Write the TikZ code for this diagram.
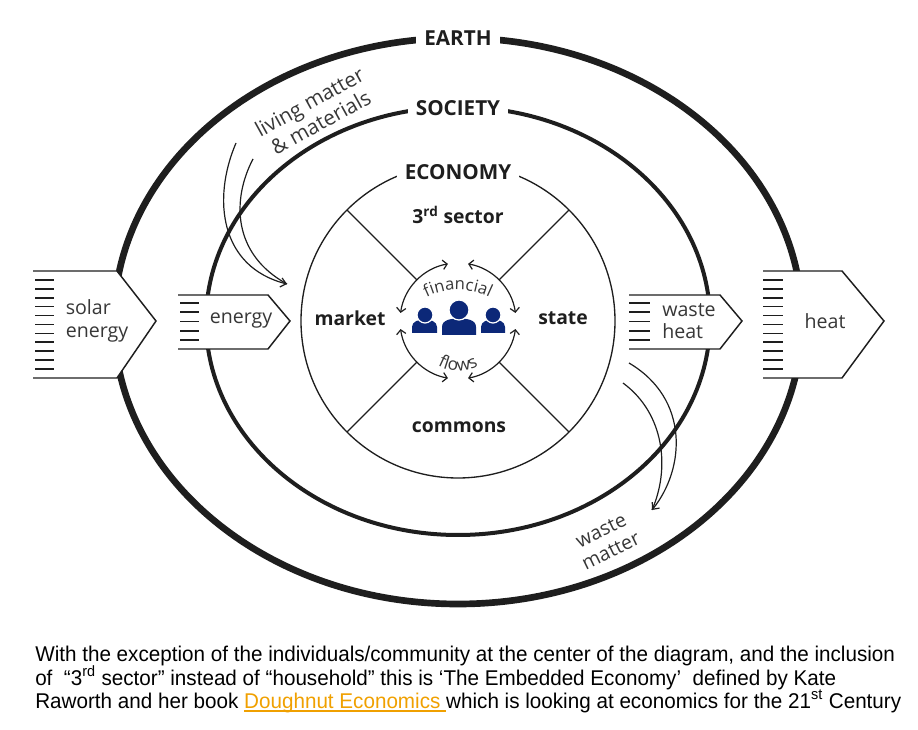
\documentclass[tikz,border=0pt]{standalone}
\usepackage{graphicx}
\usepackage{fontspec}
\setmainfont{Open Sans}
\newfontfamily\capfont{Liberation Sans}
\usetikzlibrary{arrows.meta,calc,decorations.text}
\definecolor{ink}{RGB}{30,30,30}
\definecolor{softink}{RGB}{55,55,55}
\definecolor{people}{RGB}{12,40,120}
\definecolor{linkorange}{RGB}{240,160,0}
\newcommand\linkline[1]{\setbox0\hbox{#1}\rlap{\rule[-3.2pt]{\wd0}{1.4pt}}\box0}

\begin{document}
\begin{tikzpicture}[x=0.75pt,y=0.75pt,
  ringlabel/.style={fill=white,inner xsep=6pt,inner ysep=1pt,text=ink,font=\bfseries\fontsize{15.5}{18}\selectfont},
  sectorlabel/.style={text=ink,font=\bfseries\fontsize{14.5}{17}\selectfont},
  flowtext/.style={text=softink,align=left,font=\fontsize{14.7}{16.8}\selectfont},
  blockarrow/.style={draw=ink,fill=white,line width=1.1pt,line join=miter},
  hatch/.style={ink,line width=1.2pt},
  flowarc/.style={ink,line width=0.9pt,{Straight Barb[length=3.2pt,width=7pt]}-{Straight Barb[length=3.2pt,width=7pt]}},
  matterarrow/.style={ink,line width=0.9pt},
  caption/.style={anchor=base west,inner sep=0pt,font=\capfont\fontsize{16}{19}\selectfont}]
\useasboundingbox (0,0) rectangle (918,729);
\coordinate (C) at (458,408);

% the three nested systems
\draw[ink,line width=5pt] (C) ellipse [x radius=344, y radius=283];
\draw[ink,line width=3pt] (C) ellipse [x radius=252, y radius=214];
\draw[ink,line width=1pt] (C) circle [radius=157];
\node[ringlabel] (earth) at (458,691) {EARTH};
\node[ringlabel] (society) at (458,621) {SOCIETY};
\node[ringlabel] (economy) at (458,557) {ECONOMY};

% sectors
\foreach \a in {45,135,225,315}
  \draw[ink,line width=1pt] ($(C)+(\a:58)$) -- ($(C)+(\a:157)$);
\node[sectorlabel] (third) at (458,514) {3\textsuperscript{rd} sector};
\node[sectorlabel] (market) at (350,411) {market};
\node[sectorlabel] (state) at (563,411) {state};
\node[sectorlabel] (commons) at (459,302) {commons};

% financial flows
\foreach \s/\e in {100/172,80/8,188/260,352/280}
  \draw[flowarc] (C) ++(\s:58) arc[start angle=\s, end angle=\e, radius=58];
\path[decorate,decoration={text along path,text align=center,
  text={|\fontsize{12.5}{14}\selectfont\color{softink}|financial}}]
  (458,367) ++(124:72) arc[start angle=124, end angle=56, radius=72];
\path[decorate,decoration={text along path,text align=center,
  text={|\fontsize{13}{14}\selectfont\color{softink}|flows}}]
  (458,400) ++(225:42) arc[start angle=225, end angle=315, radius=42];

% people
\fill[people] (412,396) -- (412,402) to[out=90,in=180] (424.5,409.5) to[out=0,in=90] (437,402) -- (437,396) -- cycle;
\fill[people] (442,394) -- (442,402) to[out=90,in=180] (459,410.5) to[out=0,in=90] (476,402) -- (476,394) -- cycle;
\fill[people] (481,396) -- (481,402) to[out=90,in=180] (493,409.5) to[out=0,in=90] (505,402) -- (505,396) -- cycle;
\filldraw[people,draw=white,line width=0.9pt] (425,414) circle [radius=8];
\filldraw[people,draw=white,line width=0.9pt] (459,419) circle [radius=10];
\filldraw[people,draw=white,line width=0.9pt] (493,414) circle [radius=8];

% energy in
\draw[blockarrow] (33,458) -- (117,458) -- (156,408) -- (117,351) -- (33,351);
\foreach \i in {0,...,10}
  \draw[hatch] (35,{449-8.9*\i}) -- (54,{449-8.9*\i});
\node[flowtext] (solar) at (97,408) {solar\\energy};
\draw[blockarrow] (178,434) -- (268,434) -- (290,408) -- (268,380) -- (178,380);
\foreach \i in {0,...,4}
  \draw[hatch] (180,{426-9.25*\i}) -- (199,{426-9.25*\i});
\node[flowtext] (energy) at (241,408) {energy};

% heat out
\draw[blockarrow] (629,434) -- (720,434) -- (742,408) -- (720,380) -- (629,380);
\foreach \i in {0,...,4}
  \draw[hatch] (629,{426-9.25*\i}) -- (650,{426-9.25*\i});
\node[flowtext] (wasteheat) at (689,408) {waste\\heat};
\draw[blockarrow] (763,458) -- (842,458) -- (884,408) -- (842,351) -- (763,351);
\foreach \i in {0,...,10}
  \draw[hatch] (763,{449-8.9*\i}) -- (783,{449-8.9*\i});
\node[flowtext] (heat) at (825,408) {heat};

% matter in and out
\coordinate (livingA) at (236,586);
\coordinate (livingB) at (253,570);
\coordinate (livingTip) at (287,445);
\draw[matterarrow,-{Straight Barb[length=4pt,width=7pt]}] (livingA) .. controls (212,530) and (220,462) .. (livingTip);
\draw[matterarrow] (livingB) .. controls (232,530) and (232,475) .. (livingTip);
\node[flowtext,align=center,rotate=29,font=\fontsize{15.5}{17.5}\selectfont] (living) at (315,617) {living matter\\\& materials};
\coordinate (wasteA) at (629,366);
\coordinate (wasteB) at (623,346);
\coordinate (wasteTip) at (652,219);
\draw[matterarrow,-{Straight Barb[length=4pt,width=7pt]}] (wasteA) .. controls (690,330) and (685,260) .. (wasteTip);
\draw[matterarrow] (wasteB) .. controls (665,315) and (670,260) .. (wasteTip);
\node[flowtext,align=center,rotate=26] (wastematter) at (606,188) {waste\\matter};

% caption
\node[caption] (cap1) at (35,68) {\scalebox{0.968}[1]{With the exception of the individuals/community at the center of the diagram, and the inclusion}};
\node[caption] (cap2) at (35,44) {\scalebox{0.968}[1]{of \ “3\textsuperscript{rd} sector” instead of “household” this is ‘The Embedded Economy’\ \ defined by Kate}};
\node[caption] (cap3) at (35,21) {\scalebox{0.968}[1]{Raworth and her book \textcolor{linkorange}{\linkline{Doughnut Economics\ }}which is looking at economics for the 21\textsuperscript{st} Century}};
\end{tikzpicture}
\end{document}
